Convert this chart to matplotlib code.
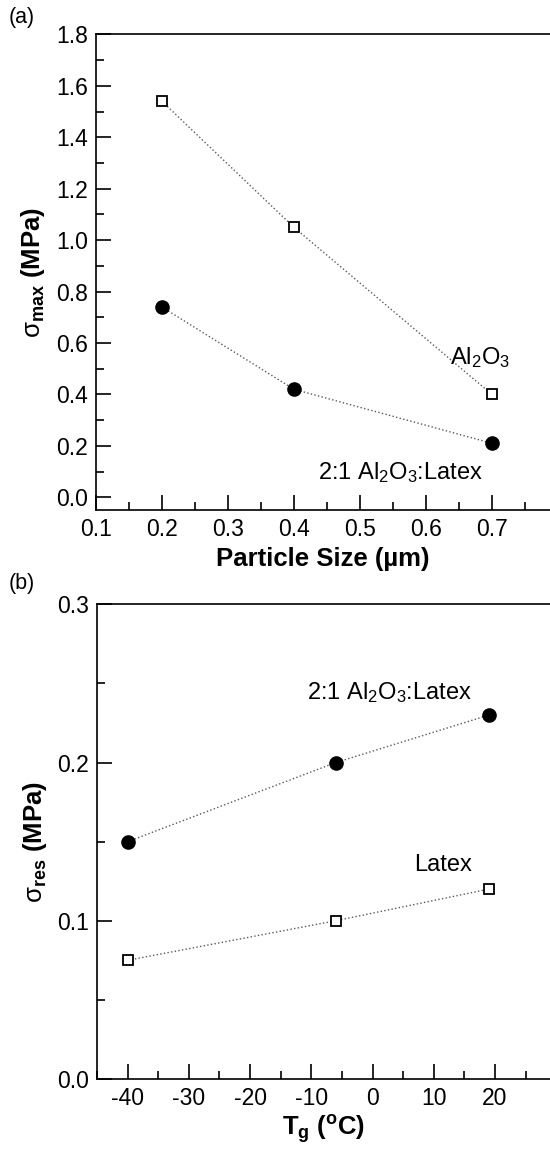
import numpy as np
import matplotlib
matplotlib.use("Agg")
import matplotlib.pyplot as plt
from matplotlib.ticker import MultipleLocator

plt.rcParams['font.family'] = ['Liberation Sans', 'DejaVu Sans']
plt.rcParams['mathtext.fontset'] = 'custom'
plt.rcParams['mathtext.rm'] = 'Liberation Sans'
plt.rcParams['mathtext.it'] = 'Liberation Sans:italic'
plt.rcParams['mathtext.bf'] = 'Liberation Sans:bold'
plt.rcParams['axes.unicode_minus'] = False

# panel (a): max stress vs particle size
marime = [0.2, 0.4, 0.7]
sigma_al2o3 = [1.54, 1.05, 0.40]
sigma_amestec_a = [0.74, 0.42, 0.21]

# panel (b): residual stress vs Tg
tg = [-40, -6, 19]
sigma_amestec_b = [0.15, 0.20, 0.23]
sigma_latex = [0.075, 0.10, 0.12]

fig = plt.figure(figsize=(5.5, 11.49), dpi=100)
ax1 = fig.add_axes([0.1745, 0.556, 0.8255, 0.414])
ax2 = fig.add_axes([0.1765, 0.061, 0.8235, 0.413])

linie = dict(color='0.35', linestyle=':', linewidth=1.0)

ax1.plot(marime, sigma_al2o3, marker='s', markersize=7.5, markerfacecolor='white',
         markeredgecolor='black', markeredgewidth=1.3, **linie)
ax1.plot(marime, sigma_amestec_a, marker='o', markersize=9.5, markerfacecolor='black',
         markeredgecolor='black', **linie)

ax2.plot(tg, sigma_amestec_b, marker='o', markersize=9.5, markerfacecolor='black',
         markeredgecolor='black', **linie)
ax2.plot(tg, sigma_latex, marker='s', markersize=7.5, markerfacecolor='white',
         markeredgecolor='black', markeredgewidth=1.3, **linie)

ax1.set_xlim(0.1, 0.788)
ax1.set_ylim(-0.05, 1.8)
ax1.set_xticks(np.arange(0.1, 0.75, 0.1))
ax1.xaxis.set_minor_locator(MultipleLocator(0.05))
ax1.set_yticks(np.arange(0.0, 1.85, 0.2))
ax1.yaxis.set_minor_locator(MultipleLocator(0.1))
ax1.xaxis.set_major_formatter(plt.FormatStrFormatter('%.1f'))
ax1.yaxis.set_major_formatter(plt.FormatStrFormatter('%.1f'))

ax2.set_xlim(-45, 29)
ax2.set_ylim(0.0, 0.3)
ax2.set_xticks(np.arange(-40, 21, 10))
ax2.xaxis.set_minor_locator(MultipleLocator(5))
ax2.set_yticks([0.0, 0.1, 0.2, 0.3])
ax2.yaxis.set_minor_locator(MultipleLocator(0.05))
ax2.yaxis.set_major_formatter(plt.FormatStrFormatter('%.1f'))

for ax in (ax1, ax2):
    ax.spines['right'].set_visible(False)
    for s in ('left', 'bottom', 'top'):
        ax.spines[s].set_linewidth(1.2)
    ax.tick_params(which='both', direction='in', top=False, right=False,
                   labelsize=16.5, width=1.2, pad=6)
    ax.tick_params(which='major', length=11)
    ax.tick_params(which='minor', length=6)

ax1.set_xlabel('Particle Size (µm)', fontsize=18.5, fontweight='bold', labelpad=4)
ax1.set_ylabel(r'$\mathrm{\sigma}_{\mathbf{max}}$ (MPa)', fontsize=18.5, fontweight='bold', labelpad=6)
ax2.set_xlabel(r'T$_\mathbf{g}$ ($^\mathbf{o}$C)', fontsize=18.5, fontweight='bold', labelpad=2)
ax2.set_ylabel(r'$\mathrm{\sigma}_{\mathbf{res}}$ (MPa)', fontsize=18.5, fontweight='bold', labelpad=6)

ax1.text(0.727, 0.543, 'Al$_2$O$_3$', fontsize=17, ha='right', va='center')
ax1.text(0.686, 0.096, '2:1 Al$_2$O$_3$:Latex', fontsize=17, ha='right', va='center')
ax2.text(16.3, 0.244, '2:1 Al$_2$O$_3$:Latex', fontsize=17, ha='right', va='center')
ax2.text(16.3, 0.135, 'Latex', fontsize=17, ha='right', va='center')

fig.text(0.015, 0.985, '(a)', fontsize=15.5, va='center')
fig.text(0.015, 0.492, '(b)', fontsize=15.5, va='center')

fig.savefig('out.png', dpi=100)
